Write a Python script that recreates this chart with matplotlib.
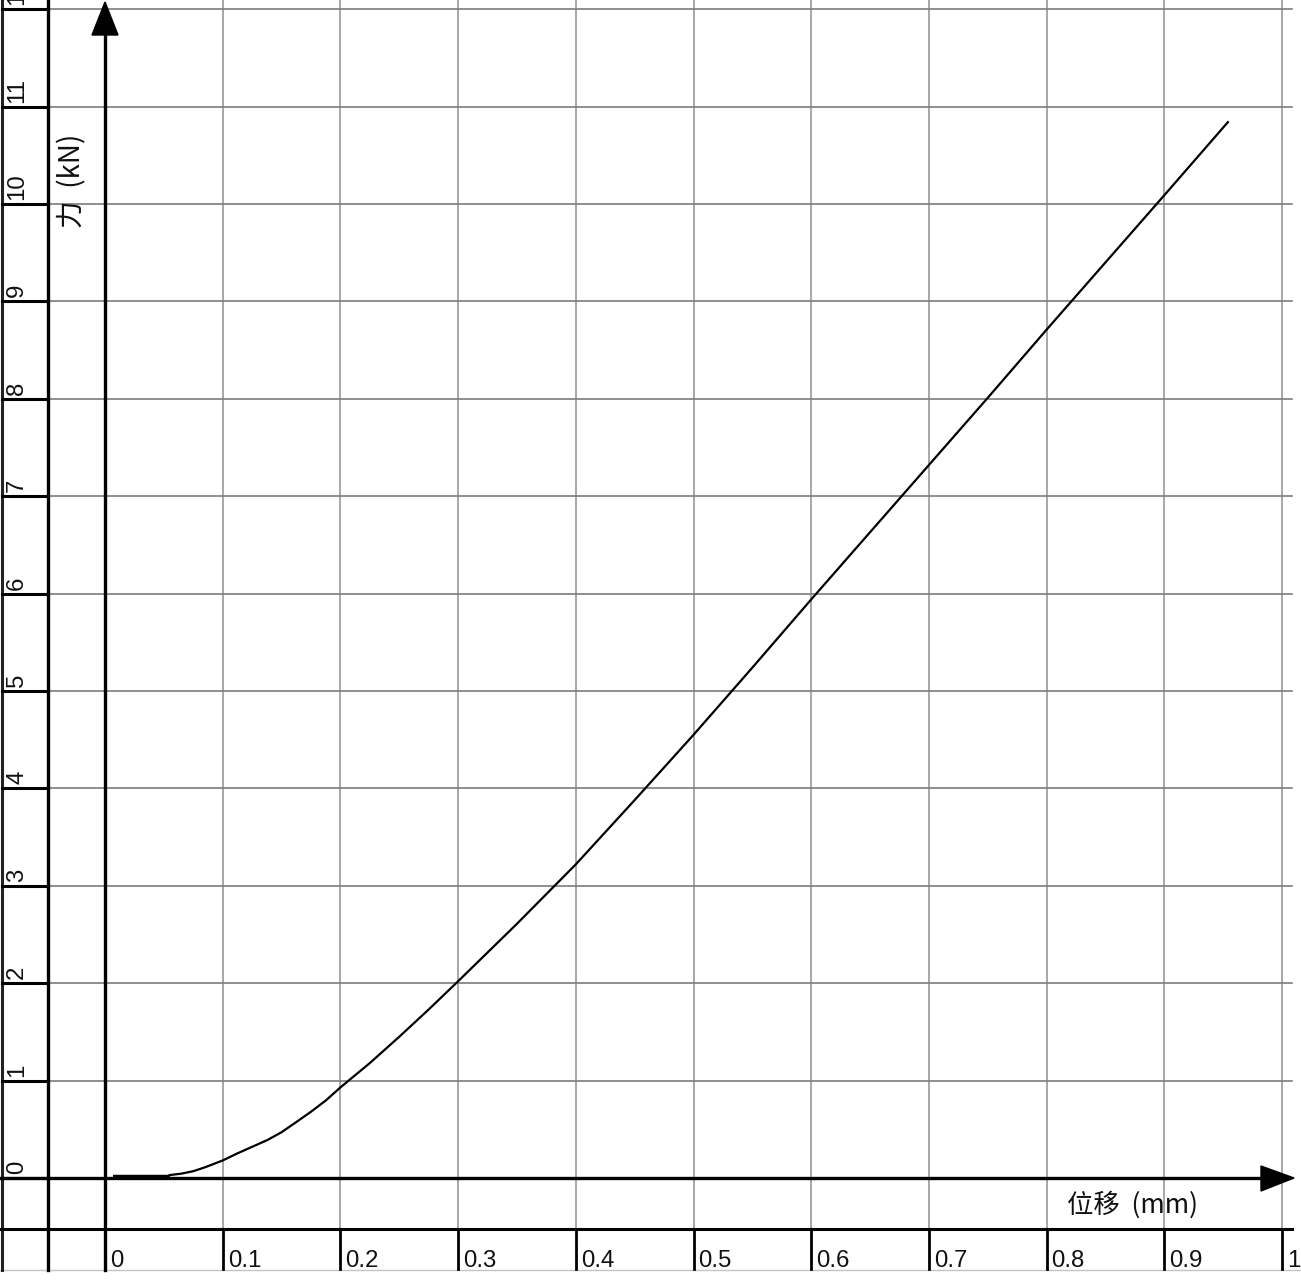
import matplotlib
matplotlib.use('Agg')
import matplotlib.pyplot as plt
from matplotlib.patches import Polygon

# ---------------- data ----------------
disp_ticks = [0, 0.1, 0.2, 0.3, 0.4, 0.5, 0.6, 0.7, 0.8, 0.9, 1.0]
disp_labels = ['0', '0.1', '0.2', '0.3', '0.4', '0.5', '0.6', '0.7', '0.8', '0.9', '1']
force_ticks = [0, 1, 2, 3, 4, 5, 6, 7, 8, 9, 10, 11, 12]
force_labels = ['0', '1', '2', '3', '4', '5', '6', '7', '8', '9', '10', '11', '12']

toe_x = [0.007, 0.055]
toe_y = [0.012, 0.012]
curve_x = [0.055, 0.065, 0.075, 0.085, 0.1, 0.112, 0.125, 0.138, 0.15, 0.162, 0.175,
           0.188, 0.2, 0.225, 0.25, 0.275, 0.3, 0.35, 0.4, 0.45, 0.5, 0.55, 0.6,
           0.65, 0.7, 0.75, 0.8, 0.85, 0.9, 0.954]
curve_y = [0.03, 0.045, 0.07, 0.11, 0.18, 0.25, 0.32, 0.39, 0.47, 0.57, 0.68,
           0.8, 0.93, 1.18, 1.45, 1.73, 2.02, 2.61, 3.22, 3.88, 4.55, 5.24, 5.94,
           6.63, 7.32, 8.01, 8.71, 9.40, 10.09, 10.84]

x_label = '位移  (mm)'
y_label = '力  (kN)'

# ---------------- figure ----------------
W, H = 1301, 1280
fig = plt.figure(figsize=(W / 100, H / 100), dpi=100)
fig.patch.set_facecolor('white')
ax = fig.add_axes([0, 0, 1, 1])
X0, SX = 105, 1177.0
Y0, SY = 1178, 97.4
ax.set_xlim(-X0 / SX, (W - X0) / SX)
ax.set_ylim((Y0 - H) / SY, Y0 / SY)
ax.axis('off')


def dx(p):
    return (p - X0) / SX


def dy(p):
    return (Y0 - p) / SY


num_font = ['Liberation Sans', 'DejaVu Sans']
cjk_font = ['Noto Sans CJK SC', 'DejaVu Sans']
FS = 17.3

# grid
for t in disp_ticks[1:]:
    ax.plot([t, t], [dy(1229), dy(0)], color='#8e8e96', lw=1.1, zorder=1)
for t in force_ticks[1:]:
    ax.plot([dx(48), dx(1292)], [t, t], color='#7c7c7c', lw=1.2, zorder=1)

# left strip
ax.plot([dx(1.5), dx(1.5)], [dy(0), dy(1270)], color='#222222', lw=2.2, zorder=3)
ax.plot([dx(48), dx(48)], [dy(0), dy(1270)], color='black', lw=2.4, zorder=3)
for t, lab in zip(force_ticks, force_labels):
    ax.plot([dx(2), dx(48)], [t, t], color='black', lw=2.2, zorder=3)
    ax.text(dx(17), t + 4 / SY, lab, rotation=90, ha='center', va='bottom',
            fontsize=FS, family=num_font, color='#111111', zorder=4)

# bottom strip
ax.plot([dx(0), dx(1292)], [dy(1229), dy(1229)], color='black', lw=2.2, zorder=3)
for t, lab in zip(disp_ticks, disp_labels):
    ax.plot([t, t], [dy(1229), dy(1269)], color='black', lw=2.0, zorder=3)
    ax.text(t + 5 / SX, dy(1267), lab, ha='left', va='baseline',
            fontsize=FS, family=num_font, color='#111111', zorder=4)
ax.plot([dx(0), dx(W)], [dy(1270), dy(1270)], color='#c4c4c4', lw=1.0, zorder=2)

# main axes with arrows
ax.plot([0, 0], [dy(1270), dy(30)], color='black', lw=2.4, zorder=5)
ax.add_patch(Polygon([(0, dy(2)), (dx(92), dy(35)), (dx(118), dy(35))],
                     closed=True, color='black', zorder=6))
ax.plot([dx(0), dx(1263)], [0, 0], color='black', lw=2.4, zorder=5)
ax.add_patch(Polygon([(dx(1294), 0), (dx(1261), dy(1166)), (dx(1261), dy(1191))],
                     closed=True, color='black', zorder=6))

# axis titles
ax.text(dx(72), dy(181), y_label, rotation=90, ha='center', va='center',
        fontsize=20, family=cjk_font, color='#111111', zorder=4)
ax.text(dx(1067), dy(1205), x_label, ha='left', va='center',
        fontsize=19, family=cjk_font, color='#111111', zorder=4)

# curve
ax.plot(toe_x, toe_y, color='black', lw=3.2, solid_capstyle='butt', zorder=7)
ax.plot(curve_x, curve_y, color='black', lw=1.6, solid_joinstyle='round', zorder=7)

fig.savefig('out.png', dpi=100, facecolor='white')
